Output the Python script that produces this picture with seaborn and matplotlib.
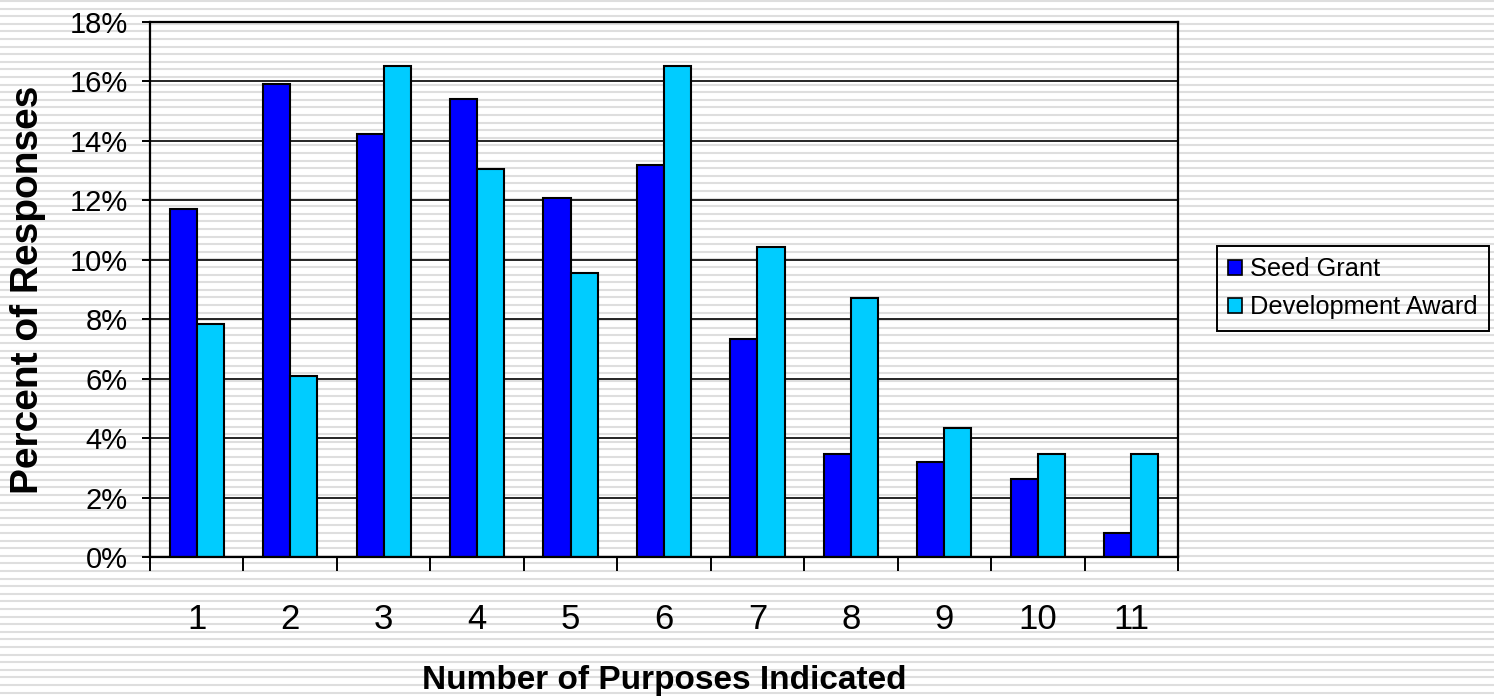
import numpy as np
import pandas as pd
import matplotlib
matplotlib.use("Agg")
import matplotlib.pyplot as plt
import seaborn as sns
from matplotlib.patches import Patch
from matplotlib.ticker import FixedLocator, NullFormatter

# values (percent of responses)
purposes = ["1", "2", "3", "4", "5", "6", "7", "8", "9", "10", "11"]
seed_grant = [11.72, 15.93, 14.24, 15.42, 12.09, 13.19, 7.34, 3.47, 3.20, 2.63, 0.81]
dev_award = [7.83, 6.09, 16.52, 13.04, 9.57, 16.52, 10.43, 8.70, 4.35, 3.48, 3.48]
series = ["Seed Grant", "Development Award"]
colors = ["#0000FF", "#00CCFF"]
y_ticks = [0, 2, 4, 6, 8, 10, 12, 14, 16, 18]

df = pd.DataFrame({
    "Purposes": purposes * 2,
    "Percent": seed_grant + dev_award,
    "Series": [series[0]] * len(purposes) + [series[1]] * len(purposes),
})

sns.set_style("white")
plt.rcParams["font.family"] = ["Liberation Sans", "DejaVu Sans"]
plt.rcParams["text.color"] = "black"
plt.rcParams["axes.labelcolor"] = "black"
plt.rcParams["xtick.color"] = "black"
plt.rcParams["ytick.color"] = "black"

fig = plt.figure(figsize=(14.94, 6.96), dpi=100)

# striped background behind everything
bg = fig.add_axes([0, 0, 1, 1], zorder=-1)
bg.set_xlim(0, 1494)
bg.set_ylim(696, 0)
bg.hlines(np.arange(1, 696, 7.6), 0, 1494, color="#dedede", lw=1.5)
bg.axis("off")

ax = fig.add_axes([150 / 1494, 139 / 696, 1028 / 1494, 535 / 696])
ax.set_facecolor("none")
sns.barplot(data=df, x="Purposes", y="Percent", hue="Series", order=purposes,
            hue_order=series, palette=colors, width=0.58, gap=0,
            edgecolor="black", linewidth=1.5, saturation=1, legend=False, ax=ax)

ax.set_ylim(0, 18)
ax.set_xlim(-0.5, len(purposes) - 0.5)
ax.set_yticks(y_ticks)
ax.set_yticklabels([f"{t}%" for t in y_ticks], fontsize=21)
ax.yaxis.grid(True, color="black", lw=1.2)
ax.set_axisbelow(True)

# x ticks between groups, labels at group centres
ax.xaxis.set_major_locator(FixedLocator(np.arange(-0.5, len(purposes), 1)))
ax.xaxis.set_major_formatter(NullFormatter())
ax.xaxis.set_minor_locator(FixedLocator(np.arange(len(purposes))))
ax.set_xticklabels(purposes, minor=True, fontsize=25)
ax.tick_params(axis="x", which="major", direction="out", length=10, width=1.4, bottom=True)
ax.tick_params(axis="x", which="minor", length=0, pad=33)
ax.tick_params(axis="y", direction="out", length=6, width=1.4, left=True, pad=10)

for s in ax.spines.values():
    s.set_color("black")
    s.set_linewidth(1.6)

ax.set_ylabel("Percent of Responses", fontsize=28, fontweight="bold", va="center")
ax.yaxis.set_label_coords(-0.119, 0.5)
ax.set_xlabel("Number of Purposes Indicated", fontsize=24, fontweight="bold", va="center")
ax.xaxis.set_label_coords(0.5, -0.23)

handles = [Patch(facecolor=c, edgecolor="black", lw=1.2, label=l) for c, l in zip(colors, series)]
leg = fig.legend(handles=handles, loc="upper left", bbox_to_anchor=(1217 / 1494, 450 / 696),
                 fontsize=18.3, frameon=True, fancybox=False, framealpha=1, facecolor="none",
                 edgecolor="black", handlelength=0.55, handleheight=0.5, handletextpad=0.3,
                 borderpad=0.45, labelspacing=0.55, borderaxespad=0)
leg.get_frame().set_linewidth(1.4)

fig.savefig("out.png", dpi=100)
